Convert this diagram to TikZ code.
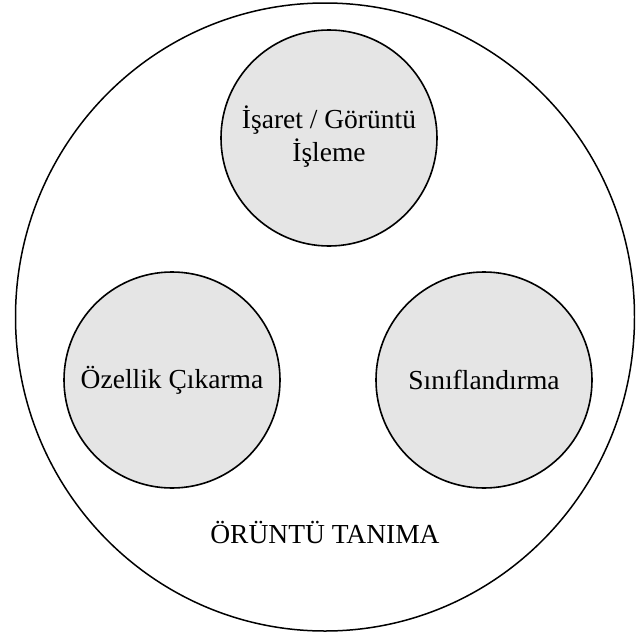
\documentclass[tikz,border=0pt]{standalone}
\usepackage{fontspec}
\setmainfont{Liberation Serif}
\begin{document}
\begin{tikzpicture}[x=1pt,y=-1pt,
  inner/.style={circle, draw=black, line width=1.6pt, fill=gray!20, minimum size=216pt, inner sep=0pt, align=center, font=\fontsize{27.5}{33}\selectfont},
  lbl/.style={font=\fontsize{27.5}{33}\selectfont}]
\useasboundingbox (0,0) rectangle (635,637);
\clip (0,0) rectangle (635,637);
\draw[line width=1.5pt] (325,317) ellipse [x radius=309.5, y radius=314];
\node[inner] (isaret) at (329,138) {\raisebox{26pt}{\begin{tabular}{c}İşaret / Görüntü\\[0pt]İşleme\end{tabular}}};
\node[inner] (ozellik) at (172,380) {Özellik Çıkarma};
\node[inner] (sinif) at (484,380) {Sınıflandırma};
\node[lbl] (oruntu) at (325,532) {ÖRÜNTÜ TANIMA};
\end{tikzpicture}
\end{document}
